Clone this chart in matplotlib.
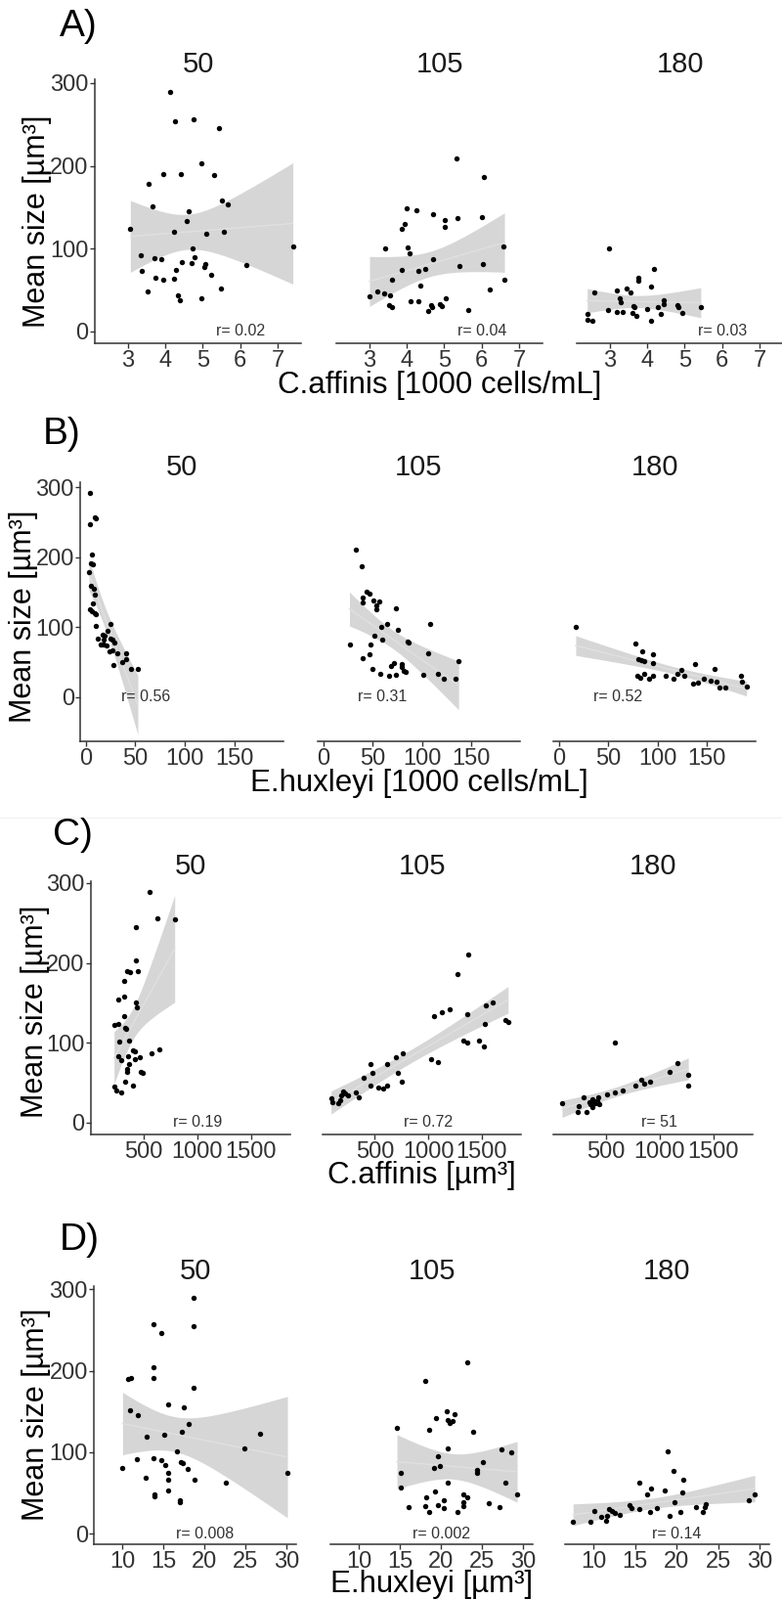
import numpy as np
import matplotlib
matplotlib.use('Agg')
import matplotlib.pyplot as plt

plt.rcParams['font.family'] = ['Liberation Sans', 'DejaVu Sans']

# A) mean size vs C.affinis abundance [1000 cells/mL]
a50_x = [4.13, 4.25, 4.76, 5.44, 4.97, 3.93, 4.42, 5.31, 3.55, 5.51, 5.68, 3.66, 4.61, 4.58, 3.06, 4.22, 5.56, 5.10, 7.41, 4.72,
         3.34, 3.70, 3.88, 4.79, 4.44, 4.69, 5.07, 5.04, 6.17, 3.37, 4.27, 5.23, 3.72, 4.24, 3.93, 5.48, 3.51, 4.33, 4.39, 4.97]
a50_y = [289, 254, 256, 246, 203, 190, 190, 189, 178, 158, 154, 151, 145, 133, 124, 120, 121, 118, 103, 100,
         92, 89, 87, 90, 84, 83, 81, 78, 80, 73, 74, 68, 65, 64, 62, 52, 48, 44, 38, 40]
a105_x = [5.34, 6.06, 4.00, 4.26, 4.71, 5.02, 5.35, 6.00, 3.94, 3.87, 5.01, 4.01, 3.42, 4.06, 6.58, 4.69, 6.03, 5.41, 3.86, 4.32,
          4.50, 3.61, 6.61, 4.35, 6.21, 3.00, 3.20, 3.40, 3.55, 3.51, 3.61, 4.10, 4.31, 5.04, 4.87, 4.94, 4.66, 4.67, 4.58, 5.64]
a105_y = [209, 186, 149, 147, 142, 135, 137, 138, 130, 124, 126, 102, 100, 94, 103, 87, 82, 79, 74, 73,
          76, 62, 62, 55, 51, 43, 48, 46, 44, 32, 30, 37, 36, 40, 33, 31, 32, 30, 25, 26]
a180_x = [2.98, 4.17, 3.76, 3.76, 4.09, 3.19, 3.45, 2.58, 3.56, 3.26, 3.30, 4.43, 4.43, 4.80, 4.83, 3.62, 3.65, 4.28, 5.43, 2.94,
          3.19, 3.35, 3.99, 3.59, 3.71, 4.37, 4.93, 2.39, 2.39, 2.54, 4.10]
a180_y = [100, 75, 65, 61, 54, 49, 52, 47, 47, 40, 35, 38, 33, 32, 29, 31, 29, 30, 30, 26,
          24, 24, 27, 22, 19, 21, 22, 21, 14, 13, 13]

# B) mean size vs E.huxleyi abundance [1000 cells/mL]
b50_x = [3.9, 8.9, 9.8, 4.6, 6.2, 4.9, 7.2, 3.3, 5.6, 8.2, 9.5, 7.2, 4.3, 6.2, 9.2, 10.5, 9.8, 12.1, 17, 19.3,
         22, 24.6, 18, 25, 27, 28.5, 15.4, 18, 20.7, 24, 27, 31.8, 40.7, 27.9, 36.7, 41, 45.6, 52.5]
b50_y = [291, 257, 255, 247, 204, 191, 190, 179, 159, 155, 146, 134, 126, 123, 120, 118, 102, 84, 90, 88,
         95, 104, 82, 84, 82, 78, 76, 75, 74, 66, 67, 63, 63, 46, 50, 54, 41, 40]
b105_x = [32.9, 38.8, 44.1, 46.4, 40.1, 39.8, 50.7, 56.3, 53.3, 53.3, 74, 64.5, 59.2, 108, 75.3, 51.3, 59.5, 85.5, 86.2, 26.6,
          48, 106, 46.7, 39.8, 137, 50, 72, 68.4, 79, 79.6, 81, 83, 58, 67, 74, 101, 116, 122, 134]
b105_y = [211, 187, 151, 148, 143, 136, 138, 137, 131, 125, 127, 104, 100, 105, 96, 88, 83, 80, 78, 75,
          75, 63, 62, 56, 52, 41, 49, 45, 48, 43, 38, 36, 34, 30, 32, 32, 33, 26, 27]
b180_x = [17.1, 77.6, 84.9, 95.4, 80.9, 83.6, 86.2, 95.4, 137.5, 158, 123.7, 119.7, 79.3, 82.6, 86.8, 91, 95.4, 108.6, 115.8, 127.3,
          136, 140.5, 146.7, 154, 160, 162.5, 169, 184, 185.5, 190]
b180_y = [101, 77, 66, 61, 55, 53, 51, 49, 48, 41, 39, 34, 31, 28, 34, 27, 30, 31, 26, 30,
          20, 21, 27, 24, 23, 14, 14, 31, 23, 16]

# C) mean size vs C.affinis cell volume [um3]
c50_x = [555, 633, 791, 433, 427, 348, 379, 452, 324, 270, 324, 427, 439, 324, 227, 264, 330, 342, 276, 367,
         264, 294, 355, 403, 421, 470, 421, 573, 652, 364, 348, 348, 476, 494, 330, 403, 233, 252, 294]
c50_y = [289, 256, 255, 245, 203, 190, 189, 190, 177, 154, 158, 150, 145, 133, 122, 124, 119, 117, 101, 103,
         83, 78, 83, 90, 89, 82, 80, 87, 92, 73, 67, 64, 64, 62, 52, 47, 45, 41, 38]
c105_x = [1376, 1270, 1603, 1536, 1364, 1055, 1130, 1203, 1530, 1721, 1745, 1327, 1361, 1476, 1515, 1030, 1094, 761, 694, 464,
          612, 482, 715, 400, 748, 455, 533, 576, 612, 321, 348, 203, 218, 185, 248, 91, 103, 158, 176]
c105_y = [210, 186, 150, 147, 136, 134, 138, 142, 124, 129, 126, 103, 100, 103, 95, 79, 76, 87, 82, 74,
          74, 62, 62, 56, 51, 47, 44, 43, 47, 38, 32, 39, 37, 34, 34, 31, 26, 24, 28]
c180_x = [585, 1167, 1097, 1267, 1267, 827, 855, 915, 779, 658, 585, 515, 94, 294, 252, 239, 318, 348, 373, 391,
          355, 403, 433, 439, 379, 418]
c180_y = [100, 75, 64, 60, 47, 54, 49, 51, 47, 40, 38, 35, 25, 32, 21, 13, 14, 26, 29, 27,
          23, 25, 32, 23, 20, 27]

# D) mean size vs E.huxleyi cell volume [um3]
d50_x = [18.67, 13.80, 18.63, 14.71, 13.76, 10.75, 11.03, 13.76, 18.63, 15.58, 17.45, 10.99, 11.86, 18.04, 17.21, 12.93, 15.15, 26.71, 16.65, 24.85,
         10.04, 11.78, 13.84, 14.79, 15.19, 17.17, 17.33, 18.0, 15.54, 12.89, 15.62, 18.83, 22.63, 30.08, 15.62, 13.92, 13.88, 17.01, 17.05]
d50_y = [290, 257, 255, 246, 204, 190, 191, 191, 179, 159, 155, 152, 146, 135, 125, 119, 121, 122, 101, 104,
         81, 91, 93, 90, 84, 88, 86, 79, 74, 69, 66, 66, 63, 75, 53, 48, 46, 41, 38]
d105_x = [23.17, 18.06, 20.75, 21.67, 19.33, 20.79, 21.03, 21.35, 14.64, 18.57, 23.85, 20.87, 27.34, 28.53, 19.64, 25.04, 19.84, 19.13, 24.37, 24.41,
          15.12, 20.83, 27.82, 15.16, 29.25, 19.21, 18.21, 20.28, 22.66, 23.17, 22.70, 22.66, 19.68, 18.13, 20.28, 16.11, 18.57, 21.98, 25.79, 27.06]
d105_y = [210, 187, 150, 147, 142, 139, 136, 138, 130, 127, 125, 104, 103, 100, 95, 88, 83, 80, 78, 74,
          75, 63, 63, 56, 48, 52, 45, 41, 48, 44, 39, 34, 35, 34, 31, 33, 26, 27, 37, 32]
d180_x = [18.96, 19.64, 20.8, 15.48, 16.96, 16.44, 18.52, 20.68, 19.72, 14.32, 14.6, 15.48, 17.6, 16.84, 19.12, 20.48, 22.28, 23.52, 23.44, 23.12,
          28.68, 29.4, 10.08, 11.8, 12.2, 12.52, 13.12, 10.92, 11.6, 11.48, 9.64, 7.52]
d180_y = [101, 77, 66, 62, 55, 48, 53, 50, 38, 35, 31, 30, 31, 26, 22, 26, 33, 36, 32, 26,
          41, 48, 28, 30, 28, 25, 23, 21, 22, 16, 14, 14]

panel_titles = ['50', '105', '180']
r_labels = [['r= 0.02', 'r= 0.04', 'r= 0.03'],
            ['r= 0.56', 'r= 0.31', 'r= 0.52'],
            ['r= 0.19', 'r= 0.72', 'r= 51'],
            ['r= 0.008', 'r= 0.002', 'r= 0.14']]

W, H = 800, 1636
DARK = '#333333'


def tquant(df):
  # 97.5% t quantile, Cornish-Fisher expansion
  z = 1.959964
  return z + (z**3 + z)/(4*df) + (5*z**5 + 16*z**3 + 3*z)/(96*df**2)


def smooth(ax, x, y):
  x = np.array(x, float); y = np.array(y, float); n = len(x)
  b, a = np.polyfit(x, y, 1)
  xs = np.linspace(x.min(), x.max(), 100)
  fit = a + b*xs
  s = np.sqrt(np.sum((y - (a + b*x))**2)/(n-2))
  se = s*np.sqrt(1.0/n + (xs - x.mean())**2/np.sum((x - x.mean())**2))
  t = tquant(n-2)
  ax.fill_between(xs, fit - t*se, fit + t*se, color='#d6d6d6', lw=0, zorder=1)
  ax.plot(xs, fit, color='#e0e0e0', lw=1, zorder=2)


def box(l, r, top, bot):
  return [l/W, 1 - bot/H, (r-l)/W, (bot-top)/H]


rows = [
  dict(letter='A)', lxy=(80, 27), xlabel='C.affinis [1000 cells/mL]', xly=394, yxy=(38, 226),
       boxes=[(97, 308), (344, 555), (590, 801)], top=81, bot=351, xlim=(2.11, 7.63), ylim=(-14.2, 304.7),
       xticks=[3, 4, 5, 6, 7], rpos=(6, 0),
       data=[(a50_x, a50_y), (a105_x, a105_y), (a180_x, a180_y)]),
  dict(letter='B)', lxy=(63, 444), xlabel='E.huxleyi [1000 cells/mL]', xly=801, yxy=(24, 630),
       boxes=[(82, 290), (325, 532), (566, 773)], top=493, bot=758, xlim=(-5.6, 199.2), ylim=(-62.8, 307),
       xticks=[0, 50, 100, 150], rpos=(60, 0),
       data=[(b50_x, b50_y), (b105_x, b105_y), (b180_x, b180_y)]),
  dict(letter='C)', lxy=(74, 854), xlabel='C.affinis [µm³]', xly=1202, yxy=(36, 1034),
       boxes=[(93, 297), (330, 533), (566, 770)], top=901, bot=1160, xlim=(12, 1866), ylim=(-14.7, 302.4),
       xticks=[500, 1000, 1500], rpos=(1000, 0),
       data=[(c50_x, c50_y), (c105_x, c105_y), (c180_x, c180_y)]),
  dict(letter='D)', lxy=(81, 1268), xlabel='E.huxleyi [µm³]', xly=1620, yxy=(37, 1446),
       boxes=[(96, 303), (338, 545), (578, 787)], top=1315, bot=1579, xlim=(6.55, 31.15), ylim=(-13.2, 304),
       xticks=[10, 15, 20, 25, 30], rpos=(20, 0),
       data=[(d50_x, d50_y), (d105_x, d105_y), (d180_x, d180_y)]),
]

fig = plt.figure(figsize=(W/100, H/100), dpi=100)

for ri, row in enumerate(rows):
  for pi, (l, r) in enumerate(row['boxes']):
    ax = fig.add_axes(box(l, r, row['top'], row['bot']))
    x, y = row['data'][pi]
    smooth(ax, x, y)
    ax.scatter(x, y, s=15, color='black', lw=0, zorder=3)
    ax.set_xlim(row['xlim'])
    ax.set_ylim(row['ylim'])
    ax.set_xticks(row['xticks'])
    ax.patch.set_alpha(0)
    for sp in ['top', 'right']:
      ax.spines[sp].set_visible(False)
    ax.spines['bottom'].set_color(DARK)
    ax.spines['bottom'].set_linewidth(1.1)
    ax.tick_params(axis='x', length=3.5, width=1, color=DARK, labelsize=17, labelcolor=DARK, pad=1.5)
    if pi == 0:
      ax.spines['left'].set_color(DARK)
      ax.spines['left'].set_linewidth(1.1)
      ax.set_yticks([0, 100, 200, 300])
      ax.tick_params(axis='y', length=3.5, width=1, color=DARK, labelsize=17, labelcolor=DARK, pad=1)
    else:
      ax.spines['left'].set_visible(False)
      ax.set_yticks([])
    ax.text(row['rpos'][0], row['rpos'][1], r_labels[ri][pi], ha='center', va='center',
            fontsize=11.5, color=DARK, zorder=4)
    fig.text((l + r)/2/W, 1 - (row['top'] - 15)/H, panel_titles[pi], ha='center', va='center',
             fontsize=21, color='#1a1a1a')
  mid = sum(row['boxes'][1])/2
  fig.text(mid/W, 1 - row['xly']/H, row['xlabel'], ha='center', va='center', fontsize=22.5, color='black')
  fig.text(row['yxy'][0]/W, 1 - row['yxy'][1]/H, 'Mean size [µm³]', rotation=90, ha='center', va='center',
           fontsize=22, color='black')
  fig.text(row['lxy'][0]/W, 1 - row['lxy'][1]/H, row['letter'], ha='center', va='center', fontsize=28, color='black')

fig.add_artist(plt.Line2D([0, 1], [1 - 836/H, 1 - 836/H], color='#f2f2f2', lw=1))

fig.savefig('out.png', dpi=100)
